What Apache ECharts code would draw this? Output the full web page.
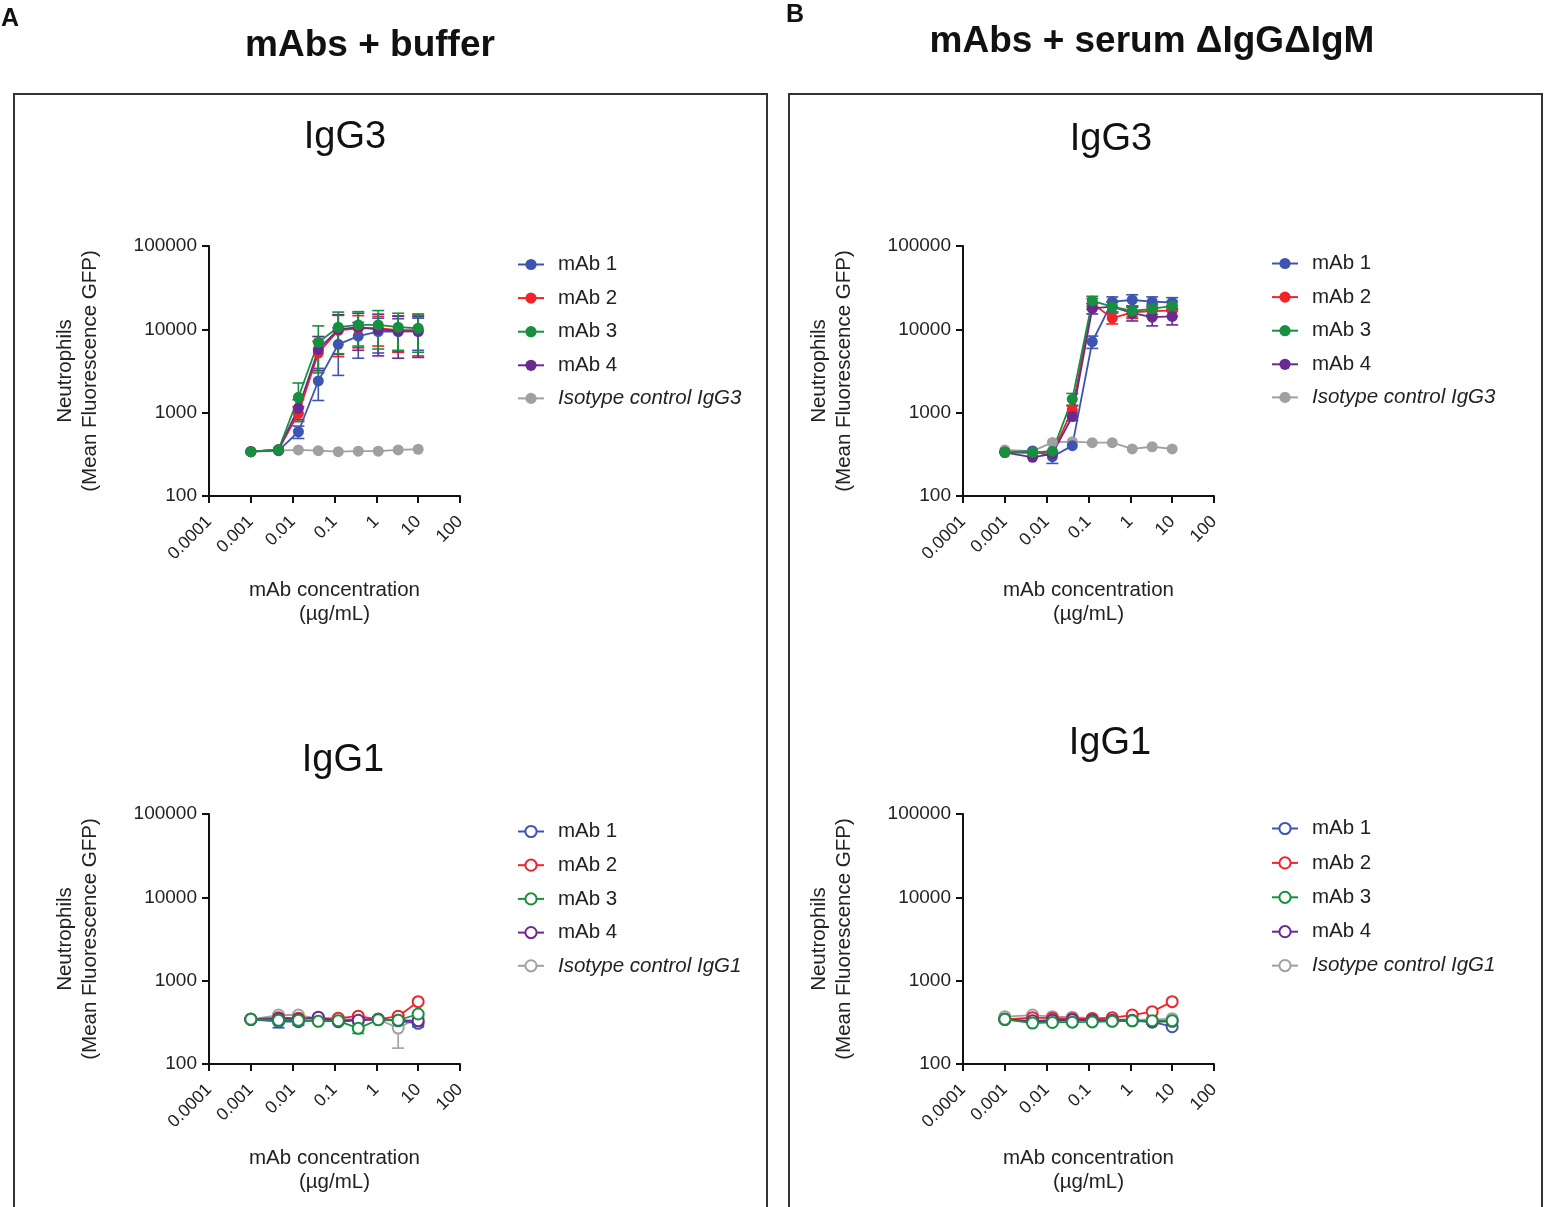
<!DOCTYPE html>
<html>
<head>
<meta charset="utf-8">
<script src="https://cdn.jsdelivr.net/npm/echarts@6/dist/echarts.min.js"></script>
<style>
  html, body { margin: 0; padding: 0; background: #fff; }
  #chart { width: 1545px; height: 1207px; }
</style>
</head>
<body>
<div id="chart"></div>
<script>
// concentrations (µg/mL), 3-fold dilutions
const conc = [0.001, 0.0046, 0.0137, 0.041, 0.123, 0.37, 1.11, 3.33, 10];
const xTicks = [0.0001, 0.001, 0.01, 0.1, 1, 10, 100];
const yTicks = [100, 1000, 10000, 100000];

// IgG3, mAbs + buffer
const g3BufMab1 = [340, 350, 590, 2400, 6600, 8300, 9400, 9400, 9600];
const g3BufMab1Sd = [0, 0, 100, 1000, 3800, 3800, 4200, 4000, 4000];
const g3BufMab2 = [340, 360, 980, 5200, 9700, 10300, 10300, 9800, 9800];
const g3BufMab2Sd = [0, 0, 200, 2000, 5000, 4300, 4000, 4500, 5000];
const g3BufMab3 = [340, 360, 1530, 7000, 10600, 11300, 11300, 10600, 10300];
const g3BufMab3Sd = [0, 0, 740, 4000, 5500, 5000, 5500, 5000, 5000];
const g3BufMab4 = [340, 360, 1130, 5700, 10000, 10600, 10000, 9500, 9400];
const g3BufMab4Sd = [0, 0, 300, 2500, 5000, 5000, 5200, 5000, 4800];
const g3BufIso = [340, 350, 357, 350, 340, 345, 345, 357, 364];

// IgG3, mAbs + serum ΔIgGΔIgM
const g3SerMab1 = [334, 347, 296, 402, 7100, 21500, 22500, 21500, 21000];
const g3SerMab1Sd = [0, 0, 50, 0, 1200, 3000, 3500, 3000, 3000];
const g3SerMab2 = [334, 330, 330, 1080, 20500, 13600, 16000, 16600, 16800];
const g3SerMab2Sd = [0, 0, 0, 150, 3000, 2000, 2500, 2500, 2500];
const g3SerMab3 = [334, 334, 345, 1450, 21900, 18700, 16600, 17600, 19100];
const g3SerMab3Sd = [0, 0, 0, 250, 3000, 2500, 2500, 2500, 2500];
const g3SerMab4 = [334, 291, 320, 900, 17800, 18700, 15600, 14000, 14300];
const g3SerMab4Sd = [0, 0, 0, 100, 2500, 2500, 3000, 3000, 3000];
const g3SerIso = [357, 345, 440, 449, 437, 437, 367, 390, 367];

// IgG1, mAbs + buffer
const g1BufMab1 = [344, 322, 322, 340, 330, 344, 344, 330, 308];
const g1BufMab1Sd = [0, 50, 30, 0, 0, 0, 0, 0, 30];
const g1BufMab2 = [344, 360, 355, 350, 355, 375, 344, 375, 560];
const g1BufMab3 = [344, 335, 335, 325, 330, 268, 340, 335, 398];
const g1BufMab3Sd = [0, 0, 0, 0, 0, 35, 0, 0, 0];
const g1BufMab4 = [344, 350, 344, 365, 322, 335, 344, 335, 330];
const g1BufIso = [344, 387, 387, 350, 350, 340, 344, 270, 360];
const g1BufIsoSd = [0, 0, 0, 0, 0, 0, 0, 115, 0];

// IgG1, mAbs + serum ΔIgGΔIgM
const g1SerMab1 = [344, 322, 330, 335, 335, 330, 330, 320, 280];
const g1SerMab2 = [344, 360, 355, 350, 350, 360, 387, 425, 560];
const g1SerMab3 = [344, 310, 315, 318, 320, 325, 330, 330, 330];
const g1SerMab4 = [344, 330, 335, 340, 335, 335, 335, 320, 325];
const g1SerIso = [370, 387, 370, 365, 355, 345, 340, 340, 350];

const colors = {
  'mAb 1': '#3d55b0',
  'mAb 2': '#f0232a',
  'mAb 3': '#16903f',
  'mAb 4': '#6a2990',
  'iso': '#a0a0a0'
};
const font = 'Liberation Sans';

const panels = [
  { grid: { left: 209, top: 246 }, legend: { left: 517, top: 254, gap: 13.7 }, hollow: false,
    iso: 'Isotype control IgG3',
    sets: { 'mAb 1': [g3BufMab1, g3BufMab1Sd], 'mAb 2': [g3BufMab2, g3BufMab2Sd],
            'mAb 3': [g3BufMab3, g3BufMab3Sd], 'mAb 4': [g3BufMab4, g3BufMab4Sd], 'iso': [g3BufIso, null] } },
  { grid: { left: 209, top: 814 }, legend: { left: 517, top: 821, gap: 13.8 }, hollow: true,
    iso: 'Isotype control IgG1',
    sets: { 'mAb 1': [g1BufMab1, g1BufMab1Sd], 'mAb 2': [g1BufMab2, null],
            'mAb 3': [g1BufMab3, g1BufMab3Sd], 'mAb 4': [g1BufMab4, null], 'iso': [g1BufIso, g1BufIsoSd] } },
  { grid: { left: 963, top: 246 }, legend: { left: 1271, top: 253, gap: 13.7 }, hollow: false,
    iso: 'Isotype control IgG3',
    sets: { 'mAb 1': [g3SerMab1, g3SerMab1Sd], 'mAb 2': [g3SerMab2, g3SerMab2Sd],
            'mAb 3': [g3SerMab3, g3SerMab3Sd], 'mAb 4': [g3SerMab4, g3SerMab4Sd], 'iso': [g3SerIso, null] } },
  { grid: { left: 963, top: 814 }, legend: { left: 1271, top: 818, gap: 14.5 }, hollow: true,
    iso: 'Isotype control IgG1',
    sets: { 'mAb 1': [g1SerMab1, null], 'mAb 2': [g1SerMab2, null],
            'mAb 3': [g1SerMab3, null], 'mAb 4': [g1SerMab4, null], 'iso': [g1SerIso, null] } }
];

const drawOrder = ['iso', 'mAb 1', 'mAb 2', 'mAb 4', 'mAb 3'];
const legendOrder = ['mAb 1', 'mAb 2', 'mAb 3', 'mAb 4', 'iso'];

function errorBars(api) {
  if (!api.value(3)) return null;
  const top = api.coord([api.value(0), api.value(2)]);
  const bot = api.coord([api.value(0), api.value(1)]);
  const style = { stroke: api.visual('color'), lineWidth: 1.6 };
  const cap = 6;
  return {
    type: 'group',
    children: [
      { type: 'line', shape: { x1: top[0], y1: top[1], x2: bot[0], y2: bot[1] }, style: style },
      { type: 'line', shape: { x1: top[0] - cap, y1: top[1], x2: top[0] + cap, y2: top[1] }, style: style },
      { type: 'line', shape: { x1: bot[0] - cap, y1: bot[1], x2: bot[0] + cap, y2: bot[1] }, style: style }
    ]
  };
}

function tickText(ticks, v) {
  const t = ticks.find(t => Math.abs(Math.log10(t) - Math.log10(v)) < 0.01);
  return String(t === undefined ? v : t);
}

const grids = [], xAxes = [], yAxes = [], series = [], legends = [];

panels.forEach(function (p, gi) {
  grids.push({ left: p.grid.left, top: p.grid.top, width: 251, height: 250, containLabel: false });
  xAxes.push({
    type: 'log', logBase: 10, gridIndex: gi, min: 0.0001, max: 100, splitNumber: 6,
    name: 'mAb concentration\n(µg/mL)', nameLocation: 'middle', nameGap: 82,
    nameTextStyle: { fontFamily: font, fontSize: 20.5, lineHeight: 24, color: '#222' },
    axisLine: { lineStyle: { color: '#111', width: 2 } },
    axisTick: { show: true, length: 7, lineStyle: { color: '#111', width: 2 } },
    axisLabel: {
      rotate: 45, margin: 23, fontFamily: font, fontSize: 17.5, color: '#222',
      formatter: function (v) { return tickText(xTicks, v); }
    },
    splitLine: { show: false }
  });
  yAxes.push({
    type: 'log', logBase: 10, gridIndex: gi, min: 100, max: 100000, splitNumber: 3,
    name: 'Neutrophils\n(Mean Fluorescence GFP)', nameLocation: 'middle', nameGap: 106, nameRotate: 90,
    nameTextStyle: { fontFamily: font, fontSize: 20.5, lineHeight: 25, color: '#222' },
    axisLine: { show: true, lineStyle: { color: '#111', width: 2 } },
    axisTick: { show: true, length: 7, lineStyle: { color: '#111', width: 2 } },
    axisLabel: {
      margin: 12, fontFamily: font, fontSize: 19, color: '#222',
      formatter: function (v) { return tickText(yTicks, v); }
    },
    splitLine: { show: false }
  });

  drawOrder.forEach(function (key) {
    const name = gi + '|' + (key === 'iso' ? p.iso : key);
    const mean = p.sets[key][0];
    const sd = p.sets[key][1];
    const color = colors[key];
    if (sd) {
      series.push({
        type: 'custom', name: name + '|err', xAxisIndex: gi, yAxisIndex: gi,
        itemStyle: { color: color }, encode: { x: 0, y: [1, 2] }, z: 2,
        renderItem: function (params, api) { return errorBars(api); },
        data: conc.map((x, i) => [x, Math.max(mean[i] - sd[i], 100.5), mean[i] + sd[i], sd[i]])
      });
    }
    series.push({
      type: 'line', name: name, xAxisIndex: gi, yAxisIndex: gi, z: 3,
      symbol: p.hollow ? 'emptyCircle' : 'circle', symbolSize: 11,
      showAllSymbol: true,
      lineStyle: { color: color, width: 1.8 },
      itemStyle: { color: color, borderWidth: p.hollow ? 2.5 : 0 },
      emphasis: { disabled: true },
      data: conc.map((x, i) => [x, mean[i]])
    });
  });

  legends.push({
    orient: 'vertical', left: p.legend.left, top: p.legend.top, padding: 0,
    itemWidth: 26, itemHeight: 14, itemGap: p.legend.gap - 1.1,
    selectedMode: false,
    textStyle: { fontFamily: font, fontSize: 20.5, lineHeight: 20, color: '#222', padding: [0, 0, 0, 9] },
    formatter: function (n) { return n.split('|')[1]; },
    data: legendOrder.map(function (key) {
      const item = { name: gi + '|' + (key === 'iso' ? p.iso : key) };
      if (key === 'iso') item.textStyle = { fontStyle: 'italic' };
      return item;
    })
  });
});

const chart = echarts.init(document.getElementById('chart'), null, { renderer: 'canvas' });

const option = {
  animation: false,
  backgroundColor: '#fff',
  grid: grids,
  xAxis: xAxes,
  yAxis: yAxes,
  legend: legends,
  series: series,
  graphic: [
    { type: 'rect', shape: { x: 14, y: 94, width: 753, height: 1125 }, style: { fill: 'none', stroke: '#333', lineWidth: 2 }, z: -1 },
    { type: 'rect', shape: { x: 789, y: 94, width: 753, height: 1125 }, style: { fill: 'none', stroke: '#333', lineWidth: 2 }, z: -1 },
    { type: 'text', x: 1, y: 19, style: { text: 'A', font: 'bold 25px "Liberation Sans"', fill: '#111', textVerticalAlign: 'middle' } },
    { type: 'text', x: 786, y: 15, style: { text: 'B', font: 'bold 25px "Liberation Sans"', fill: '#111', textVerticalAlign: 'middle' } },
    { type: 'text', x: 370, y: 46, style: { text: 'mAbs + buffer', font: 'bold 37px "Liberation Sans"', fill: '#111', textAlign: 'center', textVerticalAlign: 'middle' } },
    { type: 'text', x: 1152, y: 42, style: { text: 'mAbs + serum ΔIgGΔIgM', font: 'bold 37px "Liberation Sans"', fill: '#111', textAlign: 'center', textVerticalAlign: 'middle' } },
    { type: 'text', x: 345, y: 138, style: { text: 'IgG3', font: '38px "Liberation Sans"', fill: '#111', textAlign: 'center', textVerticalAlign: 'middle' } },
    { type: 'text', x: 343, y: 761, style: { text: 'IgG1', font: '38px "Liberation Sans"', fill: '#111', textAlign: 'center', textVerticalAlign: 'middle' } },
    { type: 'text', x: 1111, y: 140, style: { text: 'IgG3', font: '38px "Liberation Sans"', fill: '#111', textAlign: 'center', textVerticalAlign: 'middle' } },
    { type: 'text', x: 1110, y: 744, style: { text: 'IgG1', font: '38px "Liberation Sans"', fill: '#111', textAlign: 'center', textVerticalAlign: 'middle' } }
  ]
};

chart.setOption(option);
</script>
</body>
</html>
